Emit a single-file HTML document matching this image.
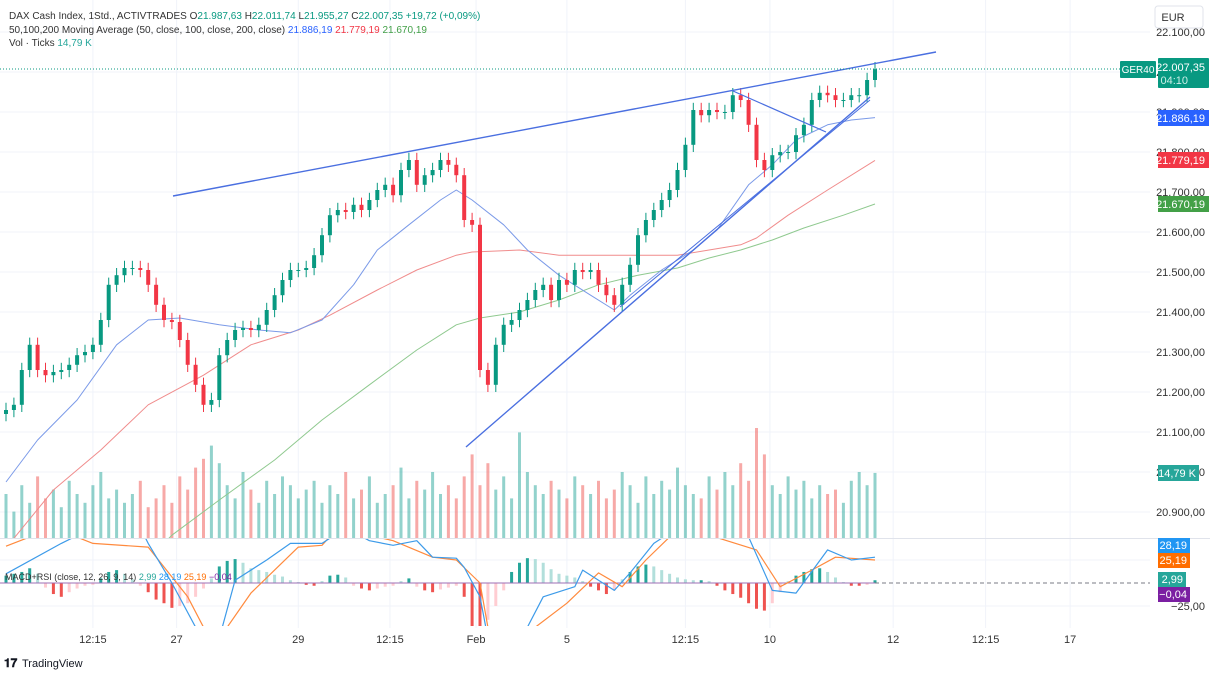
<!DOCTYPE html>
<html><head><meta charset="utf-8">
<style>
html,body{margin:0;padding:0;background:#fff;width:1210px;height:675px;overflow:hidden;font-family:"Liberation Sans",sans-serif;}
svg text{font-family:"Liberation Sans",sans-serif;}
</style></head>
<body>
<svg id="chart" width="1210" height="675" xmlns="http://www.w3.org/2000/svg">
<defs>
<clipPath id="mainClip"><rect x="0" y="0" width="1150" height="538"/></clipPath>
<clipPath id="macdClip"><rect x="0" y="539" width="1150" height="87"/></clipPath>
</defs>
<g id="grid"></g>
<g id="volume" clip-path="url(#mainClip)"></g>
<g id="mas" clip-path="url(#mainClip)"></g>
<g id="candles" clip-path="url(#mainClip)"></g>
<g id="trend" clip-path="url(#mainClip)">
<line x1="173" y1="196" x2="936" y2="52" stroke="#4a6fe0" stroke-width="1.4"/>
<line x1="466" y1="447" x2="870" y2="97" stroke="#4a6fe0" stroke-width="1.4"/>
<line x1="620" y1="307" x2="870" y2="100" stroke="#4a6fe0" stroke-width="1"/>
<line x1="733" y1="91" x2="826" y2="132" stroke="#4a6fe0" stroke-width="1.2"/>
</g>
<line x1="0" y1="69" x2="1120" y2="69" stroke="#089981" stroke-width="1" stroke-dasharray="1,2"/>
<line x1="0" y1="538.5" x2="1210" y2="538.5" stroke="#e0e3eb"/>
<g id="macd" clip-path="url(#macdClip)"></g>
<line x1="875" y1="583" x2="1150" y2="583" stroke="#787b86" stroke-dasharray="4,3"/>
<g id="axis" font-size="11" fill="#333" text-anchor="end"></g>
<g id="xaxis" font-size="11" fill="#333" text-anchor="middle"></g>

<g>
<rect x="1155" y="6" width="48" height="22" rx="3" fill="#fff" stroke="#e0e3eb"/>
<text x="1173" y="21" font-size="11" fill="#333" text-anchor="middle">EUR</text>
</g>
<g>
<rect x="1120" y="61" width="36" height="17" rx="1" fill="#089981"/>
<text x="1138" y="73" font-size="10" fill="#fff" text-anchor="middle">GER40</text>
</g>
<g>
<rect x="1158" y="58" width="51" height="30" rx="1" fill="#089981"/>
<text x="1205" y="71" font-size="11" fill="#fff" text-anchor="end">22.007,35</text>
<text x="1188" y="84" font-size="11" fill="#cdeee7" text-anchor="end">04:10</text>
</g>
<g><rect x="1158" y="110" width="51" height="16" fill="#2962ff"/><text x="1205" y="122" font-size="11" fill="#fff" text-anchor="end">21.886,19</text></g>
<g><rect x="1158" y="152" width="51" height="16" fill="#f23645"/><text x="1205" y="164" font-size="11" fill="#fff" text-anchor="end">21.779,19</text></g>
<g><rect x="1158" y="196" width="51" height="16" fill="#43a047"/><text x="1205" y="208" font-size="11" fill="#fff" text-anchor="end">21.670,19</text></g>
<g><rect x="1158" y="465" width="41" height="16" fill="#26a69a"/><text x="1196" y="477" font-size="11" fill="#fff" text-anchor="end">14,79 K</text></g>
<g><rect x="1158" y="538" width="32" height="15" fill="#2196f3"/><text x="1187" y="549" font-size="11" fill="#fff" text-anchor="end">28,19</text></g>
<g><rect x="1158" y="553" width="32" height="15" fill="#ff6d00"/><text x="1187" y="564" font-size="11" fill="#fff" text-anchor="end">25,19</text></g>
<g><rect x="1158" y="572" width="28" height="15" fill="#26a69a"/><text x="1183" y="583" font-size="11" fill="#fff" text-anchor="end">2,99</text></g>
<g><rect x="1158" y="587" width="32" height="15" fill="#7b1fa2"/><text x="1187" y="598" font-size="11" fill="#fff" text-anchor="end">−0,04</text></g>
<text x="1205" y="610" font-size="11" fill="#333" text-anchor="end">−25,00</text>

<g font-size="10" fill="#333">
<text x="9" y="19">DAX Cash Index, 1Std., ACTIVTRADES <tspan fill="#333">O</tspan><tspan fill="#089981">21.987,63</tspan> <tspan>H</tspan><tspan fill="#089981">22.011,74</tspan> <tspan>L</tspan><tspan fill="#089981">21.955,27</tspan> <tspan>C</tspan><tspan fill="#089981">22.007,35 +19,72 (+0,09%)</tspan></text>
<text x="9" y="33">50,100,200 Moving Average (50, close, 100, close, 200, close) <tspan fill="#2962ff">21.886,19</tspan> <tspan fill="#f23645">21.779,19</tspan> <tspan fill="#43a047">21.670,19</tspan></text>
<text x="9" y="46">Vol · Ticks <tspan fill="#26a69a">14,79 K</tspan></text>
<text x="5" y="580" font-size="9">MACD+RSI (close, 12, 26, 9, 14) <tspan fill="#26a69a">2,99</tspan> <tspan fill="#2196f3">28,19</tspan> <tspan fill="#ff6d00">25,19</tspan> <tspan fill="#7b1fa2">−0,04</tspan></text>
</g>
<g>
<text x="4" y="667" font-size="12" font-weight="bold" fill="#131722">𝟏𝟕</text>
<text x="22" y="667" font-size="11" fill="#131722">TradingView</text>
</g>
</svg>
<script>
const closes=[21155,21168,21255,21318,21255,21242,21250,21255,21268,21292,
21300,21318,21380,21468,21492,21510,21510,21505,21468,21418,
21380,21375,21330,21268,21218,21168,21180,21292,21330,21355,
21360,21355,21368,21405,21442,21480,21505,21505,21510,21542,
21592,21642,21655,21650,21668,21655,21680,21705,21718,21692,
21755,21780,21718,21742,21755,21780,21768,21742,21630,21618,
21255,21218,21318,21368,21380,21405,21430,21455,21468,21430,
21480,21468,21505,21500,21505,21468,21442,21418,21468,21518,
21592,21630,21655,21680,21705,21755,21818,21905,21892,21905,
21900,21900,21942,21930,21868,21780,21755,21792,21800,21800,
21842,21868,21930,21948,21942,21930,21930,21942,21942,21980,22007];
const volumes=[10,6,12,8,14,9,11,7,13,10,
8,12,15,9,11,8,10,13,7,9,
12,8,14,11,16,18,21,17,12,9,
15,11,8,13,10,14,12,9,11,13,
8,12,10,15,9,11,14,8,10,12,
16,9,13,11,15,10,12,9,14,19,
12,17,11,14,9,24,15,12,10,13,
11,9,14,12,10,13,9,11,15,12,
8,14,10,13,11,16,12,10,9,14,
11,15,12,17,13,25,19,12,10,14,
11,13,9,12,10,11,8,13,15,12,14.79];
const histogram=[8,10,12,16,10,-5,-12,-15,-10,-6,
-3,-2,5,12,14,10,4,-3,-10,-18,
-22,-27,-25,-22,-15,-6,5,18,24,26,
22,16,14,12,9,7,3,1,-2,-3,
2,8,9,6,-3,-6,-8,-6,-4,-3,
2,5,-4,-8,-10,-7,-5,-3,-15,-50,
-50,-40,-25,-8,12,22,27,26,22,15,
10,8,6,2,-4,-8,-12,-8,4,12,
18,20,18,14,10,6,4,3,3,2,
-3,-8,-12,-16,-22,-28,-30,-22,-10,2,
8,12,15,16,12,6,1,-3,-3,-2,3];
const ma50Idx=[0,4,9,14,18,22,27,32,36,40,44,47,51,55,57,59,63,66,70,74,77,79,83,87,90,94,97,100,104,107,110];
const ma50=[20975,21080,21180,21318,21380,21385,21368,21355,21348,21380,21468,21555,21618,21680,21705,21680,21618,21555,21492,21442,21405,21442,21505,21555,21605,21718,21768,21830,21868,21880,21886];
const ma100Idx=[0,6,12,18,25,31,37,41,47,52,57,59,65,70,75,80,85,89,93,95,99,104,110];
const ma100=[20810,20955,21055,21168,21242,21318,21355,21392,21455,21505,21542,21550,21555,21542,21542,21542,21542,21555,21568,21585,21642,21705,21779];
const ma200Idx=[14,21,27,34,40,46,52,57,60,65,70,75,80,85,89,93,97,101,106,110];
const ma200=[20700,20842,20930,21030,21130,21218,21305,21368,21385,21400,21430,21468,21492,21510,21535,21555,21580,21610,21642,21670];
const macdIdx=[0,7,11,17,18,21,24,27,29,33,36,40,43,46,49,52,54,57,58,60,61,66,68,72,73,77,79,82,85,93,94,97,100,104,107,110];
const macdLine=[10,43,60,60,43,0,-48,-60,3,25,43,43,60,46,41,46,28,27,17,-15,-60,-48,-15,-4,14,-8,11,43,60,60,50,-8,-11,36,25,28];
const signalIdx=[0,6,11,18,23,25,27,28,31,34,37,40,42,49,54,57,60,61,62,67,71,75,78,81,84,86,95,98,102,105,110];
const signalLine=[40,60,43,39,-15,-48,-60,-48,-11,14,39,41,60,46,28,25,0,-48,-60,-48,-22,11,-4,25,50,60,36,-4,14,28,25];
const priceTicks=["22.100,00","22.000,00","21.900,00","21.800,00","21.700,00","21.600,00","21.500,00","21.400,00","21.300,00","21.200,00","21.100,00","21.000,00","20.900,00"];
const priceTickVals=[22100,22000,21900,21800,21700,21600,21500,21400,21300,21200,21100,21000,20900];
const timeLabels=["12:15","27","29","12:15","Feb","5","12:15","10","12","12:15","17"];
const timeIdx=[11,21.6,37,48.6,59.5,71,86,96.7,112.3,124,134.7];

const NS="http://www.w3.org/2000/svg";
const X=i=>6+i*7.9;
const Y=p=>32+(22100-p)*0.4;
const VY=v=>538-v*4.4;
const MY=v=>583-v*0.92;
function mk(tag,attrs,parent){const e=document.createElementNS(NS,tag);for(const k in attrs)e.setAttribute(k,attrs[k]);parent.appendChild(e);return e;}
const G=id=>document.getElementById(id);
const UP="#089981",DN="#f23645";

priceTickVals.forEach(v=>{const l=mk('line',{x1:0,x2:1150,y1:Y(v),y2:Y(v),stroke:'#f0f3fa'},G('grid'));

});
timeIdx.forEach(i=>{const l=mk('line',{x1:X(i),x2:X(i),y1:0,y2:628,stroke:'#f0f3fa'},G('grid'));

});
[560,606].forEach(y=>{const l=mk('line',{x1:0,x2:1150,y1:y,y2:y,stroke:'#f0f3fa'},G('grid'));

});

closes.forEach((c,i)=>{
 const o=i===0?c-10:closes[i-1];
 const up=c>=o;
 const hi=Math.max(o,c)+18,lo=Math.min(o,c)-18;
 const col=up?UP:DN;
 const w=mk('line',{x1:X(i),x2:X(i),y1:Y(hi),y2:Y(lo),stroke:col,'stroke-width':1},G('candles'));
 
 
 const top=Y(Math.max(o,c)),h=Math.max(1,Math.abs(Y(o)-Y(c)));
 const b=mk('rect',{x:X(i)-2,y:top,width:4,height:h,fill:col},G('candles'));
 
 
 const v=volumes[i];
 const vb=mk('rect',{x:X(i)-1.5,y:VY(v),width:3,height:538-VY(v),fill:up?'rgba(38,166,154,0.5)':'rgba(239,83,80,0.5)'},G('volume'));
 
 
});

function poly(idx,vals,fy,col,name,parent,w){
 const pts=idx.map((k,j)=>X(k).toFixed(1)+','+fy(vals[j]).toFixed(1)).join(' ');
 const p=mk('polyline',{points:pts,fill:'none',stroke:col,'stroke-width':w||1,'stroke-linejoin':'round'},parent);
 
 
}
poly(ma200Idx,ma200,Y,'#8fc98f','ma200-line',G('mas'));
poly(ma100Idx,ma100,Y,'#f08c8c','ma100-line',G('mas'));
poly(ma50Idx,ma50,Y,'#7b9ae8','ma50-line',G('mas'));

histogram.forEach((v,i)=>{
 const prev=i?histogram[i-1]:0;
 const grow=Math.abs(v)>=Math.abs(prev);
 const col=v>=0?(grow?'#26a69a':'#b2dfdb'):(grow?'#ef5350':'#ffcdd2');
 const y=Math.min(MY(v),583),h=Math.max(1,Math.abs(MY(v)-583));
 const r=mk('rect',{x:X(i)-1.5,y:y,width:3,height:h,fill:col},G('macd'));
 
 
});
const z=mk('line',{x1:0,x2:875,y1:583,y2:583,stroke:'#9c6fb5','stroke-width':1},G('macd'));


poly(signalIdx,signalLine,MY,'#ff8a3d','signal-line',G('macd'),1.2);
poly(macdIdx,macdLine,MY,'#3d9be9','macd-line',G('macd'),1.2);

priceTickVals.forEach((v,j)=>{const t=mk('text',{x:1205,y:Y(v)+4},G('axis'));t.textContent=priceTicks[j];

});
timeIdx.forEach((i,j)=>{const t=mk('text',{x:X(i),y:643},G('xaxis'));t.textContent=timeLabels[j];

});
</script>
</body></html>
